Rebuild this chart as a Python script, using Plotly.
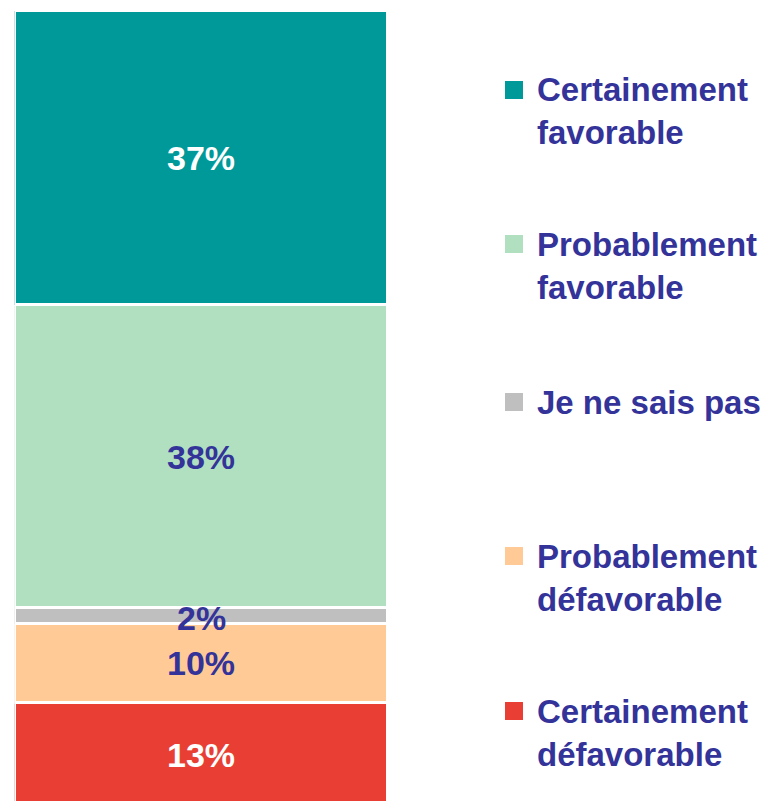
import plotly.graph_objects as go

# Data (bottom to top of the stack)
categories = ["Certainement défavorable", "Probablement défavorable", "Je ne sais pas",
              "Probablement favorable", "Certainement favorable"]
legend_labels = ["Certainement<br>défavorable", "Probablement<br>défavorable", "Je ne sais pas",
                 "Probablement<br>favorable", "Certainement<br>favorable"]
values = [13, 10, 2, 38, 37]
value_labels = ["13%", "10%", "2%", "38%", "37%"]
colors = ["#E83E33", "#FFCA96", "#BFBFBF", "#B0E0C0", "#009999"]
label_colors = ["white", "#333399", "#333399", "#333399", "white"]

W, H = 768, 801
OFF = 8  # page body margin offset
TEXT = "#333399"
FONT = "Liberation Sans, Arial, sans-serif"

fig = go.Figure()
for cat, v, c in zip(categories, values, colors):
    fig.add_trace(go.Bar(x=["total"], y=[v], name=cat, marker=dict(color=c, line=dict(color="white", width=3)),
                         width=1, showlegend=False, hoverinfo="name+y"))

# value labels at segment centres (data coords)
cum = 0
for i, (v, lab, lc) in enumerate(zip(values, value_labels, label_colors)):
    center = cum + v / 2
    cum += v
    fig.add_annotation(x="total", y=center, xref="x", yref="y", text=f"<b>{lab}</b>", showarrow=False,
                       font=dict(family=FONT, size=34, color=lc), yshift=-2 if lab == "2%" else 0)

# custom legend (top to bottom), positions in page pixels
legend_y_px = [111.5, 266, 402, 578, 732.5]
square_y_px = [90, 244, 402, 556, 711]
order = list(range(len(categories)))[::-1]
for k, idx in enumerate(order):
    fig.add_annotation(x=(535 - OFF) / W, y=1 - (legend_y_px[k] - OFF) / H, xref="paper", yref="paper",
                       xanchor="left", yanchor="middle", align="left", showarrow=False,
                       text=f"<b>{legend_labels[idx]}</b>", font=dict(family=FONT, size=33, color=TEXT))
    sy = square_y_px[k] - OFF
    fig.add_shape(type="rect", xref="paper", yref="paper", x0=(505 - OFF) / W, x1=(523 - OFF) / W,
                  y0=1 - (sy + 9) / H, y1=1 - (sy - 9) / H, fillcolor=colors[idx], line=dict(width=0))

fig.update_layout(
    width=W, height=H, barmode="stack", bargap=0,
    margin=dict(l=0, r=0, t=0, b=0),
    paper_bgcolor="white", plot_bgcolor="white",
    xaxis=dict(domain=[(14.5 - OFF) / W, (387.5 - OFF) / W], visible=False, range=[-0.5, 0.5]),
    yaxis=dict(domain=[0, 1 - (11 - OFF) / H], visible=False, range=[-0.3, 100]),
)

fig.write_html("out.html")
